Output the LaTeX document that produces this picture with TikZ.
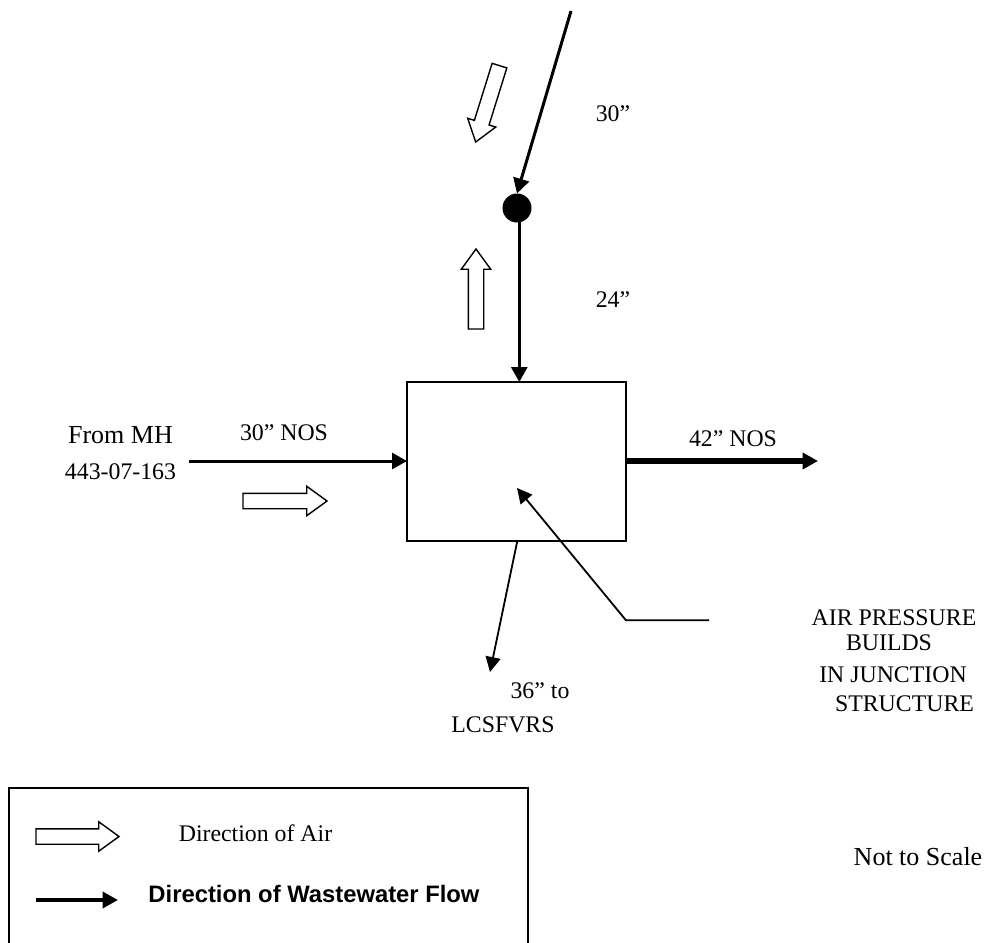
\documentclass[tikz,border=0pt]{standalone}
\usepackage{fontspec}
\setmainfont{Liberation Serif}
\newfontfamily\legendsans{Liberation Sans}
\usetikzlibrary{arrows.meta,shapes.arrows}
\tikzset{
  every node/.style={inner sep=0pt,outer sep=0pt},
  lbl/.style={font=\fontsize{23.8}{26}\selectfont},
  lblbig/.style={font=\fontsize{26}{28}\selectfont},
  air/.style={single arrow,draw=black,fill=white,line width=1.4pt,anchor=tip,
    inner ysep=7pt,inner xsep=0pt,
    minimum height=#1,minimum width=28pt,single arrow head extend=7pt,
    single arrow tip angle=72,single arrow head indent=0pt},
  flow/.style={line width=3pt,-{Triangle[length=15pt,width=16pt]}},
  heavyflow/.style={line width=5.5pt,-{Triangle[length=15.5pt,width=16pt]}},
  thinflow/.style={line width=1.8pt,-{Triangle[length=15pt,width=15pt]}},
}
\begin{document}
\begin{tikzpicture}[x=1pt,y=-1pt]
\useasboundingbox (0,0) rectangle (986,943);
% main structure
\node[draw,line width=1.8pt,minimum width=219pt,minimum height=159pt,anchor=north west] (box) at (407.3,381.7) {};
\node[circle,fill=black,minimum size=29pt] (dot) at (517,208) {};
\coordinate (topend) at (571,11);
\coordinate (leftend) at (189,461);
\coordinate (rightend) at (818,461);
\coordinate (boxL) at (407,461);
\coordinate (boxR) at (627,461);
\coordinate (boxT) at (519.3,382);
\coordinate (dotB) at (519.3,221);
\coordinate (boxB) at (517.3,541);
\coordinate (outend) at (490,672);
\coordinate (c1) at (709,620.3);
\coordinate (c2) at (626,620.3);
\coordinate (c3) at (517,488);
\draw[flow] (topend) -- (dot.north);
\draw[flow] (dotB) -- (boxT);
\draw[flow] (leftend) -- (boxL);
\draw[heavyflow] (boxR) -- (rightend);
\draw[thinflow] (boxB) -- (outend);
\draw[thinflow] (c1) -- (c2) -- (c3);
% air arrows
\node[air=80pt,rotate=-107.3] (airdown) at (475.7,142) {};
\node[air=80pt,rotate=90] (airup) at (476,249) {};
\node[air=84pt,rotate=0] (airright) at (327,501) {};
% labels
\node[lbl] (t1) at (613,114) {30”};
\node[lbl] (t2) at (613,300) {24”};
\node[lblbig] (t3) at (120.5,435) {From MH};
\node[lbl] (t4) at (120.5,472) {443-07-163};
\node[lbl] (t5) at (284,432.7) {30” NOS};
\node[lbl] (t6) at (733,439) {42” NOS};
\node[lbl] (t7) at (894,618) {AIR PRESSURE};
\node[lbl] (t8) at (889,643) {BUILDS};
\node[lbl] (t9) at (893,675) {IN JUNCTION};
\node[lbl] (t10) at (904.5,704) {STRUCTURE};
\node[lbl] (t11) at (540,691) {36” to};
\node[lbl] (t12) at (503,725) {LCSFVRS};
\node[lblbig] (t13) at (918,857) {Not to Scale};
% legend
\coordinate (la) at (9,943);
\coordinate (lb) at (9,788);
\coordinate (lc) at (528,788);
\coordinate (ld) at (528,943);
\draw[line width=1.8pt] (la) -- (lb) -- (lc) -- (ld);
\node[air=83pt,rotate=0] (legair) at (119,836.5) {};
\coordinate (lf1) at (36,900);
\coordinate (lf2) at (118,900);
\draw[line width=3.8pt,-{Triangle[length=15.5pt,width=16pt]}] (lf1) -- (lf2);
\node[lbl] (t14) at (255.5,833) {Direction of Air};
\node[font=\fontsize{23.8}{26}\selectfont\legendsans\bfseries] (t15) at (314,894) {Direction of Wastewater Flow};
\end{tikzpicture}
\end{document}
